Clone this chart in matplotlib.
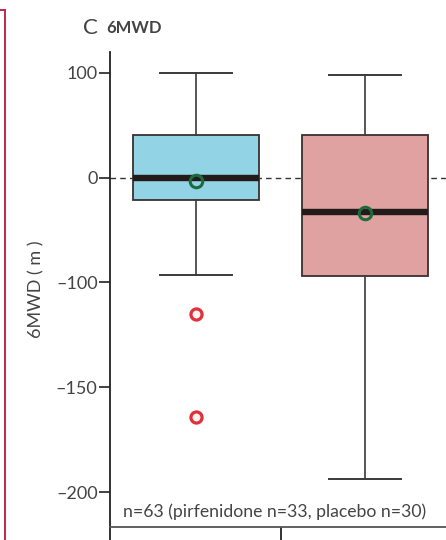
import numpy as np
import matplotlib
matplotlib.use("Agg")
import matplotlib.pyplot as plt
from matplotlib.lines import Line2D

plt.rcParams["font.family"] = ["Lato", "DejaVu Sans"]

# box statistics (6MWD change, metres)
groups = ["Pirfenidone", "Placebo"]
q1 = [-21, -94]
medians = [0, -33]
q3 = [41, 41]
whisker_low = [-93, -194]
whisker_high = [100, 98]
means = [-3, -34]
fliers = [[-115, -164], []]
box_colors = ["#92d3e5", "#dfa2a1"]

ytick_values = [100, 0, -100, -150, -200]
note = "n=63 (pirfenidone n=33, placebo n=30)"


# the printed axis is stretched twice as much below -100
def forward(y):
    y = np.asarray(y, dtype=float)
    return np.where(y >= -100, y, 2 * y + 100)


def inverse(t):
    t = np.asarray(t, dtype=float)
    return np.where(t >= -100, t, (t - 100) / 2)


fig = plt.figure(figsize=(4.46, 5.40), dpi=100)
ax = fig.add_axes([110 / 446, 1 - 527 / 540, 1 - 110 / 446, (527 - 52) / 540])
ax.set_yscale("function", functions=(forward, inverse))

stats = []
for i, name in enumerate(groups):
    stats.append(dict(label=name, q1=q1[i], med=medians[i], q3=q3[i],
                      whislo=whisker_low[i], whishi=whisker_high[i],
                      mean=means[i], fliers=fliers[i]))

positions = np.arange(1, len(groups) + 1)
ax.axhline(0, color="#333333", lw=1.0, ls=(0, (4, 3)), zorder=1)

bp = ax.bxp(stats, positions=positions, widths=0.75, patch_artist=True,
            showmeans=True, capwidths=0.43,
            boxprops=dict(edgecolor="#3a3030", linewidth=1.3),
            whiskerprops=dict(color="#3a3a3a", linewidth=1.2),
            capprops=dict(color="#3a3a3a", linewidth=1.4),
            medianprops=dict(color="#231a1a", linewidth=4.6, solid_capstyle="butt"),
            meanprops=dict(marker="o", markersize=9, markerfacecolor="none",
                           markeredgecolor="#1d6b3c", markeredgewidth=2.2),
            flierprops=dict(marker="o", markersize=8, markerfacecolor="#fff4ee",
                            markeredgecolor="#e0303c", markeredgewidth=2.3))
for patch, col in zip(bp["boxes"], box_colors):
    patch.set_facecolor(col)
    patch.set_zorder(2)

ax.set_xlim(0.491, 0.491 + (446 - 110) / 169)
ax.set_ylim(-216.7, 120)
ax.set_yticks(ytick_values)
ax.set_yticklabels([str(v).replace("-", "\u2013") for v in ytick_values])
ax.set_xticks([0.491, 1.5])
ax.set_xticklabels(["", ""])
ax.tick_params(axis="y", direction="out", length=8, width=1.2, color="#222222",
               labelsize=13, labelcolor="#444444", pad=1)
ax.tick_params(axis="x", direction="out", length=10, width=1.3, color="#222222")

for side in ["top", "right"]:
    ax.spines[side].set_visible(False)
ax.spines["left"].set_color("#222222")
ax.spines["left"].set_linewidth(1.3)
ax.spines["bottom"].set_color("#555555")
ax.spines["bottom"].set_linewidth(1.3)

ax.set_ylabel("6MWD ( m )", fontsize=13, color="#444444")
ax.yaxis.set_label_coords(-0.195, 0.50)

ax.text(0.04, 0.015, note, transform=ax.transAxes, fontsize=12.7,
        color="#444444", ha="left", va="bottom")

fig.text(83 / 446, 1 - 28 / 540, "C", fontsize=16, color="#444444",
         ha="left", va="center")
fig.text(106 / 446, 1 - 28 / 540, "6MWD", fontsize=12, color="#444444",
         ha="left", va="center", fontweight="bold")

# edge of the neighbouring panel frame
fig.add_artist(Line2D([5 / 446, 5 / 446], [0, 1 - 10 / 540], color="#c0284a", lw=1.4))
fig.add_artist(Line2D([0, 5 / 446], [1 - 10 / 540, 1 - 10 / 540], color="#c0284a", lw=1.4))

fig.savefig("out.png", dpi=100)
